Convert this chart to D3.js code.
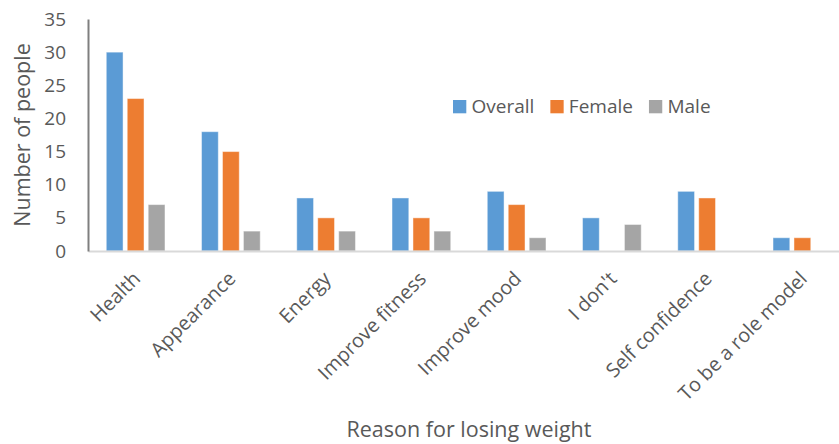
<!DOCTYPE html>
<html>
<head>
<meta charset="utf-8">
<script src="https://cdn.jsdelivr.net/npm/d3@7"></script>
<style>
  html, body { margin: 0; padding: 0; background: #fff; }
  svg { display: block; font-family: "Open Sans", sans-serif; }
</style>
</head>
<body>
<svg id="chart" width="839" height="444"></svg>
<script>
// Reasons given for losing weight, counted per group
const categories = ["Health", "Appearance", "Energy", "Improve fitness", "Improve mood", "I don't", "Self confidence", "To be a role model"];
const seriesNames = ["Overall", "Female", "Male"];
const overall = [30, 18, 8, 8, 9, 5, 9, 2];
const female  = [23, 15, 5, 5, 7, 0, 8, 2];
const male    = [7, 3, 3, 3, 2, 4, 0, 0];
const yTicks = [0, 5, 10, 15, 20, 25, 30, 35];
const colors = ["#5b9bd5", "#ed7d31", "#a5a5a5"];

const seriesValues = [overall, female, male];
const rows = categories.map((c, i) => ({ category: c, values: seriesValues.map((s, k) => ({ name: seriesNames[k], value: s[i] })) }));

const svg = d3.select("#chart");
const plot = { left: 88, right: 850, top: 19, bottom: 251 };

const x = d3.scaleBand().domain(categories).range([plot.left, plot.right]).padding(0);
const groupSpan = 58.7;
const xInner = d3.scaleBand().domain(seriesNames)
  .range([-groupSpan / 2, groupSpan / 2]).paddingInner(0.2).paddingOuter(0);
const y = d3.scaleLinear().domain([0, 35]).range([plot.bottom, plot.top]);

const textColor = "#595959";

// Bars
const groups = svg.append("g").selectAll("g")
  .data(rows).join("g")
  .attr("transform", d => `translate(${x(d.category) + x.bandwidth() / 2},0)`);

groups.selectAll("rect")
  .data(d => d.values.filter(v => v.value > 0))
  .join("rect")
  .attr("x", d => xInner(d.name))
  .attr("width", xInner.bandwidth())
  .attr("y", d => y(d.value))
  .attr("height", d => y(0) - y(d.value))
  .attr("fill", d => colors[seriesNames.indexOf(d.name)])
  .attr("stroke", "#ffffff")
  .attr("stroke-opacity", 0.45)
  .attr("stroke-width", 1);

// Category axis (baseline)
const xAxis = svg.append("g")
  .attr("transform", `translate(0,${plot.bottom})`)
  .call(d3.axisBottom(x).tickSize(0).tickFormat(""));
xAxis.select(".domain").attr("stroke", "#d9d9d9").attr("stroke-width", 2);

// Rotated category labels
svg.append("g").selectAll("text")
  .data(categories).join("text")
  .attr("transform", d => `translate(${x(d) + x.bandwidth() / 2 + 6},${plot.bottom + 29}) rotate(-45)`)
  .attr("text-anchor", "end")
  .attr("fill", textColor)
  .attr("font-size", 19.8)
  .text(d => d);

// Value axis
const yAxis = svg.append("g")
  .attr("transform", `translate(${plot.left},0)`)
  .call(d3.axisLeft(y).tickValues(yTicks).tickSize(0).tickPadding(22));
yAxis.select(".domain").attr("stroke", "#7f7f7f").attr("stroke-width", 2);
yAxis.selectAll("text")
  .attr("fill", textColor)
  .attr("font-size", 19)
  .attr("font-family", "'Open Sans', sans-serif");

// Axis titles
svg.append("text")
  .attr("transform", `translate(30,${(plot.top + plot.bottom) / 2}) rotate(-90)`)
  .attr("text-anchor", "middle")
  .attr("fill", textColor)
  .attr("font-size", 21.5)
  .text("Number of people");

svg.append("text")
  .attr("x", 469)
  .attr("y", 437)
  .attr("text-anchor", "middle")
  .attr("fill", textColor)
  .attr("font-size", 21.5)
  .text("Reason for losing weight");

// Legend
const legend = svg.append("g").attr("transform", "translate(453,100)");
let lx = 0;
seriesNames.forEach((name, k) => {
  const item = legend.append("g").attr("transform", `translate(${lx},0)`);
  item.append("rect").attr("width", 13.3).attr("height", 13.3).attr("fill", colors[k]);
  const t = item.append("text")
    .attr("x", 18.5).attr("y", 13)
    .attr("fill", textColor)
    .attr("font-size", 19)
    .text(name);
  lx += 18.5 + t.node().getComputedTextLength() + 16;
});
</script>
</body>
</html>
